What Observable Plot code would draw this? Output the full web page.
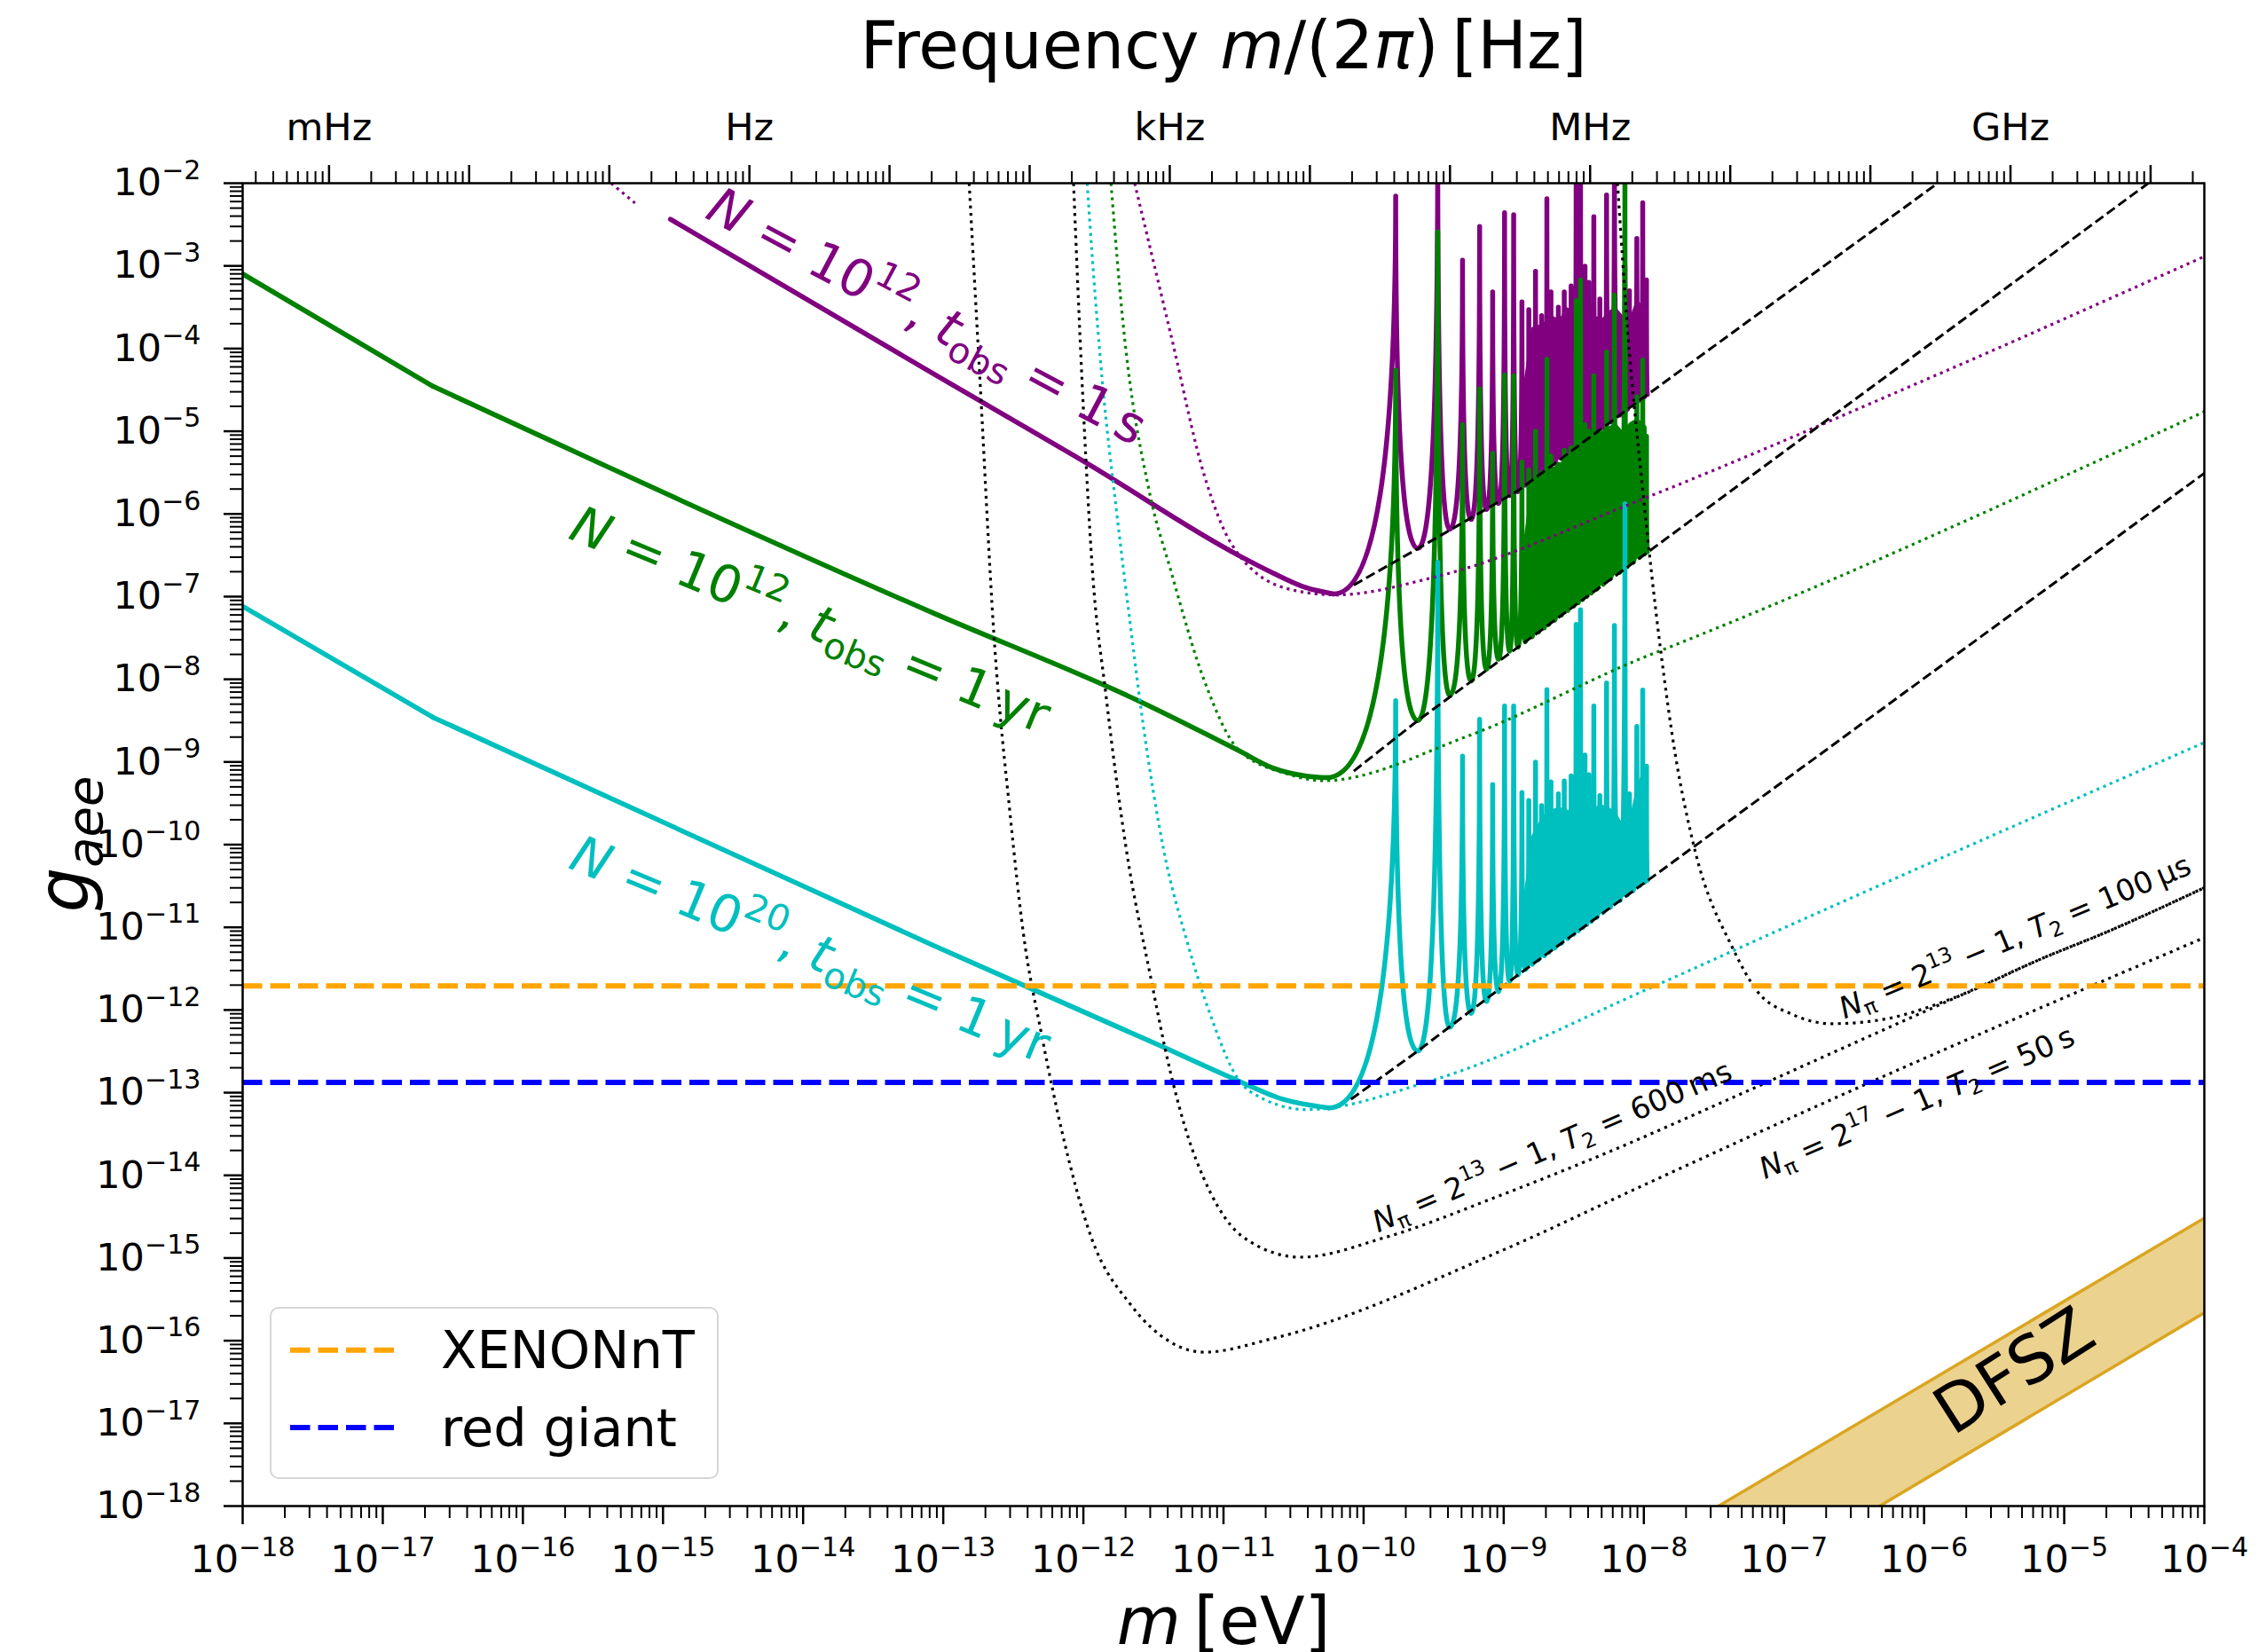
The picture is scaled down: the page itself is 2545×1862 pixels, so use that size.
<!DOCTYPE html>
<html><head><meta charset="utf-8">
<script src="https://cdn.jsdelivr.net/npm/d3@7"></script>
<script src="https://cdn.jsdelivr.net/npm/@observablehq/plot@0.6"></script>
<style>
body{margin:0;background:#fff;}
#wrap{position:relative;width:2545px;height:1862px;font-family:"DejaVu Sans";}
#legend{position:absolute;left:304px;top:1473px;width:506px;height:194px;box-sizing:border-box;border:2.6px solid #d6d6d6;border-radius:10px;background:rgba(255,255,255,0.8);}
#legend svg{position:absolute;left:-2.6px;top:-2.6px;overflow:visible;}
</style></head><body><div id="wrap"><div id="legend"><svg width="506" height="194">
<line x1="24" x2="141" y1="49.7" y2="49.7" stroke="#ffa500" stroke-width="6" stroke-dasharray="22.5 9"/>
<line x1="24" x2="141" y1="137" y2="137" stroke="#0000ff" stroke-width="6" stroke-dasharray="22.5 9"/>
<text x="194" y="70" font-size="59" font-family="DejaVu Sans">XENONnT</text>
<text x="194" y="157.7" font-size="59" font-family="DejaVu Sans">red giant</text>
</svg></div></div>
<script>
// ---------- colours ----------
const PURPLE = "#800080", GREEN = "#008000", CYAN = "#00bfbf", ORANGE = "#ffa500", BLUE = "#0000ff", GOLD = "#daa520";
const HZ_PER_EV = 2.418e14; // frequency m/(2π) in Hz per eV

// ---------- axes / tick labels (log10 exponents) ----------
const xTickExp = [-18,-17,-16,-15,-14,-13,-12,-11,-10,-9,-8,-7,-6,-5,-4];
const yTickExp = [-18,-17,-16,-15,-14,-13,-12,-11,-10,-9,-8,-7,-6,-5,-4,-3,-2];
const freqTickExp = [-3,-2,-1,0,1,2,3,4,5,6,7,8,9,10];
const freqLabelExp = [-3,0,3,6,9];
const freqLabelText = ["mHz","Hz","kHz","MHz","GHz"];

// ---------- data, all as [log10 m/eV, log10 g_aee] ----------
const xenonLogG = -11.71;
const redGiantLogG = -12.875;

const purpleSmooth = [[-14.947,-2.436],[-13.077,-4.298],[-11.967,-5.395],[-10.894,-6.50],[-10.652,-6.71],[-10.409,-6.893],[-10.215,-6.968]];
const purpleDottedStart = [[-15.37,-2.0],[-15.20,-2.24]];
const greenSmooth = [[-18,-3.097],[-16.643,-4.455],[-13.076,-7.195],[-11.622,-8.248],[-10.894,-8.86],[-10.652,-9.07],[-10.409,-9.17],[-10.264,-9.19]];
const cyanSmooth = [[-18,-7.118],[-16.643,-8.459],[-13.076,-11.215],[-11.46,-12.426],[-10.894,-12.857],[-10.571,-13.082],[-10.248,-13.185]];

// resonance peaks (shared positions) and the troughs between them
const spikeLogM = [-9.771,-9.471,-9.294,-9.172,-9.079,-8.994,-8.929,-8.870,-8.821,-8.773,-8.730,-8.692,-8.663,-8.610,-8.568,-8.519,-8.483,-8.452,-8.420,-8.393,-8.357,-8.314,-8.266,-8.210,-8.135,-8.103,-8.050,-8.008,-7.981];
const purplePeaks = [-2.156,-1.5,-2.931,-2.524,-3.314,-2.357,-2.381,-3.434,-3.530,-3.065,-3.601,-2.189,-3.314,-3.50,-3.314,-3.243,-1.5,-1.5,-3.003,-3.20,-2.405,-3.40,-2.141,-1.5,-3.00,-3.30,-2.668,-2.237,-3.17];
const greenPeaks = [-4.262,-2.587,-4.918,-4.487,-5.267,-4.320,-4.329,-5.373,-5.468,-4.999,-5.50,-4.128,-5.30,-5.40,-5.229,-5.20,-3.42,-3.171,-4.918,-5.00,-4.329,-5.40,-4.042,-3.353,-1.5,-5.10,-4.583,-4.138,-5.06];
const cyanPeaks = [-8.259,-6.584,-8.930,-8.484,-9.274,-8.322,-8.322,-9.370,-9.466,-9.002,-9.528,-8.125,-9.241,-9.385,-9.231,-9.169,-7.336,-7.158,-8.915,-9.155,-8.322,-9.408,-8.044,-7.350,-5.876,-9.385,-8.571,-8.130,-9.049];
const valleyLogM = [-9.613,-9.385,-9.233,-9.123,-9.037,-8.958,-8.899,-8.846,-8.797,-8.752,-8.711,-8.678,-8.637,-8.589,-8.544,-8.501,-8.468,-8.436,-8.407,-8.375,-8.336,-8.290,-8.238,-8.173,-8.119,-8.077,-8.029,-7.995,-7.975];
const purpleValleys = [-6.416,-6.186,-6.067,-5.947,-5.875,-5.779,-5.732,-5.653,-5.592,-5.535,-5.483,-5.442,-5.390,-5.330,-5.273,-5.219,-5.178,-5.138,-5.101,-5.061,-5.012,-4.954,-4.889,-4.807,-4.739,-4.686,-4.626,-4.583,-4.558];
const greenValleys = [-8.499,-8.197,-8.020,-7.877,-7.757,-7.661,-7.613,-7.547,-7.486,-7.429,-7.378,-7.337,-7.286,-7.226,-7.170,-7.116,-7.075,-7.035,-6.999,-6.959,-6.910,-6.852,-6.787,-6.706,-6.639,-6.586,-6.526,-6.484,-6.459];
const cyanValleys = [-12.496,-12.209,-12.041,-11.898,-11.778,-11.658,-11.577,-11.511,-11.450,-11.394,-11.344,-11.303,-11.252,-11.193,-11.137,-11.084,-11.043,-11.003,-10.967,-10.928,-10.879,-10.822,-10.758,-10.677,-10.610,-10.558,-10.498,-10.456,-10.431];

// densely packed resonances (filled band)
const bandLogM = [-8.853,-8.80,-8.72,-8.66,-8.60,-8.55,-8.50,-8.45,-8.40,-8.35,-8.30,-8.25,-8.20,-8.15,-8.10,-8.05,-8.00,-7.977];
const purpleBandLow = [-5.662,-5.595,-5.495,-5.419,-5.344,-5.281,-5.218,-5.155,-5.092,-5.029,-4.966,-4.904,-4.841,-4.778,-4.715,-4.652,-4.589,-4.560];
const purpleBandHigh = [-4.4,-3.75,-3.70,-3.60,-3.65,-3.50,-3.55,-3.40,-3.50,-3.60,-3.65,-3.55,-3.50,-3.60,-3.65,-3.40,-3.50,-3.50];
const greenBandLow = [-7.556,-7.489,-7.389,-7.314,-7.239,-7.177,-7.114,-7.052,-6.989,-6.927,-6.864,-6.802,-6.739,-6.677,-6.614,-6.552,-6.489,-6.461];
const greenBandHigh = [-6.3,-5.60,-5.50,-5.45,-5.40,-5.30,-5.25,-5.10,-5.15,-5.05,-5.00,-4.95,-4.90,-5.00,-4.90,-4.85,-4.90,-4.95];
const cyanBandLow = [-11.520,-11.454,-11.355,-11.281,-11.206,-11.144,-11.082,-11.020,-10.958,-10.896,-10.834,-10.772,-10.710,-10.648,-10.586,-10.524,-10.462,-10.434];
const cyanBandHigh = [-10.6,-9.90,-9.65,-9.58,-9.55,-9.58,-9.60,-9.58,-9.55,-9.55,-9.52,-9.55,-9.60,-9.75,-9.70,-9.30,-9.10,-9.10];

// coloured dotted curves
const purpleDotted = [[-11.634,-2.0],[-11.379,-3.808],[-11.136,-5.539],[-10.942,-6.367],[-10.542,-6.905],[-10.2,-6.98],[-9.487,-6.761],[-8.009,-5.82],[-6.043,-4.416],[-3.988,-2.877]];
const greenDotted = [[-11.803,-2.0],[-11.719,-3.657],[-11.525,-5.764],[-11.379,-6.667],[-11.136,-8.021],[-10.894,-8.849],[-10.531,-9.151],[-10.288,-9.226],[-9.275,-8.699],[-8.009,-7.741],[-7.692,-7.527],[-3.988,-4.754]];
const cyanDotted = [[-11.973,-2.0],[-11.936,-2.905],[-11.864,-4.410],[-11.767,-5.915],[-11.670,-7.270],[-11.573,-8.549],[-11.428,-10.054],[-11.258,-11.183],[-11.088,-12.086],[-10.894,-12.839],[-10.814,-12.98],[-10.410,-13.205],[-9.521,-12.857],[-7.946,-11.727],[-7.058,-11.051],[-3.988,-8.756]];

// black dotted (N_pi, T2) curves
const blackDotted600ms = [[-12.07,-2.0],[-12.009,-4.41],[-11.936,-6.667],[-11.84,-8.173],[-11.694,-10.054],[-11.525,-11.56],[-11.379,-12.75],[-11.25,-13.55],[-11.137,-14.05],[-10.95,-14.6],[-10.813,-14.80],[-10.45,-14.99],[-9.844,-14.75],[-9.036,-14.25],[-8.227,-13.7],[-7.42,-13.1],[-6.5,-12.4],[-5.566,-11.69],[-5.2,-11.408],[-4.639,-11.015],[-3.993,-10.515]];
const blackDotted100us = [[-8.188,-2.0],[-8.115,-3.79],[-8.008,-5.71],[-7.882,-7.624],[-7.776,-8.906],[-7.643,-10.016],[-7.362,-11.265],[-7.194,-11.766],[-6.941,-12.052],[-6.66,-12.166],[-6.323,-12.123],[-5.762,-11.837],[-5.2,-11.408],[-4.639,-11.015],[-3.993,-10.515]];
const blackDotted50s = [[-12.815,-2.0],[-12.737,-4.41],[-12.64,-7.42],[-12.52,-9.68],[-12.43,-11.051],[-12.30,-12.282],[-12.147,-13.513],[-11.945,-14.744],[-11.662,-15.565],[-11.379,-16.016],[-11.137,-16.139],[-10.652,-15.975],[-9.0,-14.9],[-8.009,-14.125],[-6.741,-13.144],[-3.993,-11.12]];

// black dashed envelopes
const dashedPurple = [[-10.07,-6.86],[-9.613,-6.42],[-8.899,-5.72],[-8.009,-4.60],[-5.903,-2.0]];
const dashedGreen = [[-10.07,-9.11],[-9.613,-8.499],[-8.899,-7.613],[-8.009,-6.509],[-4.40,-2.0]];
const dashedCyan = [[-10.09,-13.08],[-9.613,-12.496],[-8.899,-11.577],[-8.009,-10.479],[-3.988,-5.493]];

// DFSZ band edges
const dfszUpper = [[-7.467,-18],[-4,-14.518]];
const dfszLower = [[-6.317,-18],[-4,-15.662]];

// annotations
const curveLabels = [
  {m:-13.118, g:-3.619, text:"$N$ = 10^{12}, $t$_{obs} = 1\u2009s", color:PURPLE, angle:28},
  {m:-13.95, g:-7.293, text:"$N$ = 10^{12}, $t$_{obs} = 1\u2009yr", color:GREEN, angle:22.5},
  {m:-13.95, g:-11.279, text:"$N$ = 10^{20}, $t$_{obs} = 1\u2009yr", color:CYAN, angle:22.5}
];
const sequenceLabels = [
  {m:-8.653, g:-13.657, text:"$N$_{π} = 2^{13} \u2212 1, $T$_{2} = 600\u2009ms", angle:-23.4},
  {m:-5.35, g:-11.12, text:"$N$_{π} = 2^{13} \u2212 1, $T$_{2} = 100\u2009μs", angle:-22.7},
  {m:-6.05, g:-13.124, text:"$N$_{π} = 2^{17} \u2212 1, $T$_{2} = 50\u2009s", angle:-23.5}
];
const dfszLabel = [{m:-5.354, g:-16.378, text:"DFSZ", angle:-32.6}];
const yTitle = {m:-19.266, g:-10.0, text:"$g$_{$aee$}"};

// ---------- helpers ----------
const P = v => Math.pow(10, v);
const XY = {x: d => P(d[0]), y: d => P(d[1])};
function spikeSeries(start, peaks, valleys) {
  const pts = [start];
  spikeLogM.forEach((m, i) => { pts.push([m, peaks[i]]); pts.push([valleyLogM[i], valleys[i]]); });
  return pts;
}
// resonance-shaped curve: flat at troughs, vertical at peaks
function spikeCurve(context) {
  let n = 0, px, py;
  return {
    areaStart() {}, areaEnd() {},
    lineStart() { n = 0; }, lineEnd() {},
    point(x, y) {
      x = +x; y = +y;
      if (n === 0) context.moveTo(x, y);
      else if (y < py) context.quadraticCurveTo(x, py, x, y);
      else context.quadraticCurveTo(px, y, x, y);
      px = x; py = y; n++;
    }
  };
}
const minors = (k0, k1, f = 1) => { const o = []; for (let k = k0; k <= k1; k++) for (let j = 2; j <= 9; j++) o.push(j * Math.pow(10, k) / f); return o; };
const inX = m => m >= 1e-18 * 0.999 && m <= 1e-4 * 1.001;
const supFmt = v => { const e = Math.round(Math.log10(v)); return "10^{" + (e < 0 ? "\u2212" + (-e) : e) + "}"; };

function band(low, high, color) {
  return Plot.areaY(bandLogM.map((_, i) => i), {x: i => P(bandLogM[i]), y1: i => P(low[i]), y2: i => P(high[i]), fill: color, clip: true});
}
const solid = (data, color, curve) => Plot.line(data, {...XY, stroke: color, strokeWidth: 5.5, curve, clip: true, strokeLinejoin: "round"});
const dotted = (data, color, w, dash) => Plot.line(data, {...XY, stroke: color, strokeWidth: w, strokeDasharray: dash, strokeLinecap: "butt", curve: "monotone-x", clip: true});
const dashed = data => Plot.line(data, {...XY, stroke: "black", strokeWidth: 3, strokeDasharray: "11,5", strokeLinecap: "butt", clip: true});

const chart = Plot.plot({
  width: 2545, height: 1862,
  marginLeft: 273, marginRight: 61, marginTop: 206, marginBottom: 165,
  x: {type: "log", domain: [1e-18, 1e-4], axis: null},
  y: {type: "log", domain: [1e-18, 1e-2], axis: null},
  style: {fontFamily: "DejaVu Sans", background: "white", color: "black", overflow: "visible"},
  marks: [
    // DFSZ band
    Plot.area([0, 1], {x1: i => P(dfszUpper[i][0]), y1: i => P(dfszUpper[i][1]), x2: i => P(dfszLower[i][0]), y2: i => P(dfszLower[i][1]), fill: GOLD, fillOpacity: 0.5, clip: true}),
    Plot.line(dfszUpper, {...XY, stroke: GOLD, strokeWidth: 3.5, clip: true}),
    Plot.line(dfszLower, {...XY, stroke: GOLD, strokeWidth: 3.5, clip: true}),
    // purple
    band(purpleBandLow, purpleBandHigh, PURPLE),
    solid(purpleSmooth, PURPLE, "monotone-x"),
    solid(spikeSeries(purpleSmooth[purpleSmooth.length - 1], purplePeaks, purpleValleys), PURPLE, spikeCurve),
    dotted(purpleDottedStart, PURPLE, 3.2, "3.2,4.8"),
    // green
    band(greenBandLow, greenBandHigh, GREEN),
    solid(greenSmooth.slice(0, 2), GREEN, "linear"),
    solid(greenSmooth.slice(1), GREEN, "monotone-x"),
    solid(spikeSeries(greenSmooth[greenSmooth.length - 1], greenPeaks, greenValleys), GREEN, spikeCurve),
    // cyan
    band(cyanBandLow, cyanBandHigh, CYAN),
    solid(cyanSmooth.slice(0, 2), CYAN, "linear"),
    solid(cyanSmooth.slice(1), CYAN, "monotone-x"),
    solid(spikeSeries(cyanSmooth[cyanSmooth.length - 1], cyanPeaks, cyanValleys), CYAN, spikeCurve),
    // coloured dotted
    dotted(purpleDotted, PURPLE, 3.2, "3.2,4.8"),
    dotted(greenDotted, GREEN, 3.2, "3.2,4.8"),
    dotted(cyanDotted, CYAN, 3.2, "3.2,4.8"),
    // black dotted
    dotted(blackDotted600ms, "black", 3.2, "3.2,5.2"),
    dotted(blackDotted100us, "black", 3.2, "3.2,5.2"),
    dotted(blackDotted50s, "black", 3.2, "3.2,5.2"),
    // black dashed envelopes
    dashed(dashedPurple), dashed(dashedGreen), dashed(dashedCyan),
    // limits
    Plot.ruleY([P(xenonLogG)], {stroke: ORANGE, strokeWidth: 6, strokeDasharray: "22.5,9"}),
    Plot.ruleY([P(redGiantLogG)], {stroke: BLUE, strokeWidth: 6, strokeDasharray: "22.5,9"}),
    // labels
    Plot.text(curveLabels, {x: d => P(d.m), y: d => P(d.g), text: "text", fill: "color", rotate: "angle", fontSize: 58}),
    Plot.text(sequenceLabels, {x: d => P(d.m), y: d => P(d.g), text: "text", fill: "black", rotate: "angle", fontSize: 33.5}),
    Plot.text(dfszLabel, {x: d => P(d.m), y: d => P(d.g), text: "text", fill: "black", rotate: "angle", fontSize: 74}),
    Plot.text(["Frequency $m$/(2$π$)\u2009[Hz]"], {frameAnchor: "top", lineAnchor: "middle", dy: -153, fontSize: 74, fill: "black"}),
    Plot.text(["$m$\u2009[eV]"], {frameAnchor: "bottom", lineAnchor: "middle", dy: 132, fontSize: 74, fill: "black"}),
    Plot.text(freqLabelExp, {x: k => Math.pow(10, k) / HZ_PER_EV, frameAnchor: "top", lineAnchor: "middle", dy: -62, text: (k, i) => freqLabelText[i], fontSize: 43, fill: "black"}),
    // axes
    Plot.axisX({anchor: "bottom", ticks: xTickExp.map(P), tickSize: 21, tickPadding: 23, tickFormat: supFmt, fontSize: 43, strokeWidth: 2.5, label: null}),
    Plot.axisX({anchor: "bottom", ticks: minors(-18, -5), tickSize: 14, tickFormat: () => "", strokeWidth: 2, label: null}),
    Plot.axisY({anchor: "left", ticks: yTickExp.map(P), tickSize: 21, tickPadding: 26, tickFormat: supFmt, fontSize: 43, strokeWidth: 2.5, label: null}),
    Plot.axisY({anchor: "left", ticks: minors(-18, -3), tickSize: 14, tickFormat: () => "", strokeWidth: 2, label: null}),
    Plot.axisX({anchor: "top", ticks: freqTickExp.map(k => Math.pow(10, k) / HZ_PER_EV).filter(inX), tickSize: 21, tickFormat: () => "", strokeWidth: 2.5, label: null}),
    Plot.axisX({anchor: "top", ticks: minors(-4, 10, HZ_PER_EV).filter(inX), tickSize: 14, tickFormat: () => "", strokeWidth: 2, label: null}),
    Plot.frame({stroke: "black", strokeWidth: 2.5})
  ]
});

// rich text: $..$ italic, ^{..} superscript, _{..} subscript
const SVGNS = "http://www.w3.org/2000/svg";
function rich(el, baseSize) {
  const s = el.textContent;
  if (!/[\^_$]/.test(s)) return;
  const holder = el.closest("[font-size]");
  const base = baseSize || parseFloat(el.getAttribute("font-size") || (holder && holder.getAttribute("font-size")) || 16);
  while (el.firstChild) el.removeChild(el.firstChild);
  let italic = false, shift = 0, buf = "";
  const add = (txt, size, target, ital) => {
    if (!txt) return;
    const t = document.createElementNS(SVGNS, "tspan");
    t.setAttribute("font-size", size);
    if (target !== shift) t.setAttribute("dy", target - shift);
    shift = target;
    if (ital) t.setAttribute("font-style", "italic");
    t.textContent = txt;
    el.appendChild(t);
  };
  const flush = () => { add(buf, base, 0, italic); buf = ""; };
  for (let i = 0; i < s.length;) {
    const c = s[i];
    if (c === "$") { flush(); italic = !italic; i++; }
    else if ((c === "^" || c === "_") && s[i + 1] === "{") {
      flush();
      const j = s.indexOf("}", i);
      let inner = s.slice(i + 2, j), ital = false;
      if (inner.length > 1 && inner[0] === "$" && inner[inner.length - 1] === "$") { ital = true; inner = inner.slice(1, -1); }
      add(inner, base * 0.7, c === "^" ? -0.43 * base : 0.2 * base, ital);
      i = j + 1;
    } else { buf += c; i++; }
  }
  flush();
}
chart.querySelectorAll("text").forEach(t => rich(t));

// y-axis title, placed through the chart's own scales and turned to read upwards
{
  const sx = chart.scale("x"), sy = chart.scale("y");
  const px = sx.apply(P(yTitle.m)), py = sy.apply(P(yTitle.g));
  const g = document.createElementNS(SVGNS, "g");
  g.setAttribute("transform", `translate(${px},${py})`);
  const t = document.createElementNS(SVGNS, "text");
  t.setAttribute("transform", "rotate(-90)");
  t.setAttribute("text-anchor", "middle");
  t.setAttribute("dy", "0.32em");
  t.setAttribute("font-size", 80);
  t.setAttribute("fill", "black");
  t.setAttribute("font-family", "DejaVu Sans");
  t.textContent = yTitle.text;
  g.appendChild(t);
  chart.appendChild(g);
  rich(t, 80);
}
document.getElementById("wrap").prepend(chart);
</script></body></html>
